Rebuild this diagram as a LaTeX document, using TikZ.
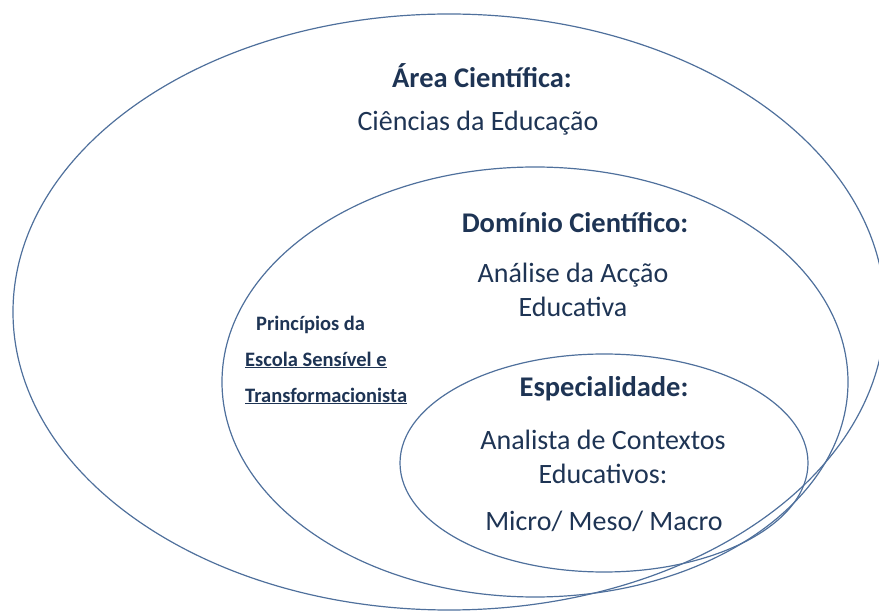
\documentclass[tikz,border=0pt]{standalone}
\usepackage{fontspec}
\setmainfont{Carlito}
\usetikzlibrary{shapes.geometric}

\definecolor{ringblue}{RGB}{79,112,156}
\definecolor{textnavy}{RGB}{30,52,84}

\tikzset{
  ring/.style={ellipse, draw=ringblue, line width=1.2pt, inner sep=0pt},
  heading/.style={text=textnavy, font=\bfseries\fontsize{28.5}{34}\selectfont},
  body/.style={text=textnavy, align=center, font=\fontsize{28}{34}\selectfont},
  side/.style={text=textnavy, anchor=west, inner sep=0pt, font=\bfseries\fontsize{20.5}{24}\selectfont}
}

\begin{document}
\begin{tikzpicture}[x=1pt, y=-1pt]
\clip (0,0) rectangle (879,612);

% circulos
\node[ring, minimum width=872pt, minimum height=596pt] (area) at (449,312) {};
\node[ring, minimum width=626pt, minimum height=430pt] (dominio) at (535,382) {};
\node[ring, minimum width=408pt, minimum height=218pt] (espec) at (604,463) {};

% area cientifica
\node[heading] (areatit) at (482,76) {Área Científica:};
\node[body] (areatxt) at (478,123) {Ciências da Educação};

% dominio cientifico
\node[heading] (domtit) at (575,223) {Domínio Científico:};
\node[body] (domtxt) at (573,290) {Análise da Acção\\Educativa};

% principios
\node[side] (prin1) at (256,325) {Princípios da};
\node[side] (prin2) at (245,360) {\underline{Escola Sensível e}};
\node[side] (prin3) at (245,396) {\underline{Transformacionista}};

% especialidade
\node[heading] (esptit) at (604,389) {Especialidade:};
\node[body] (esptxt) at (603,457) {Analista de Contextos\\Educativos:};
\node[body] (escala) at (604,521) {Micro/ Meso/ Macro};

\end{tikzpicture}
\end{document}
